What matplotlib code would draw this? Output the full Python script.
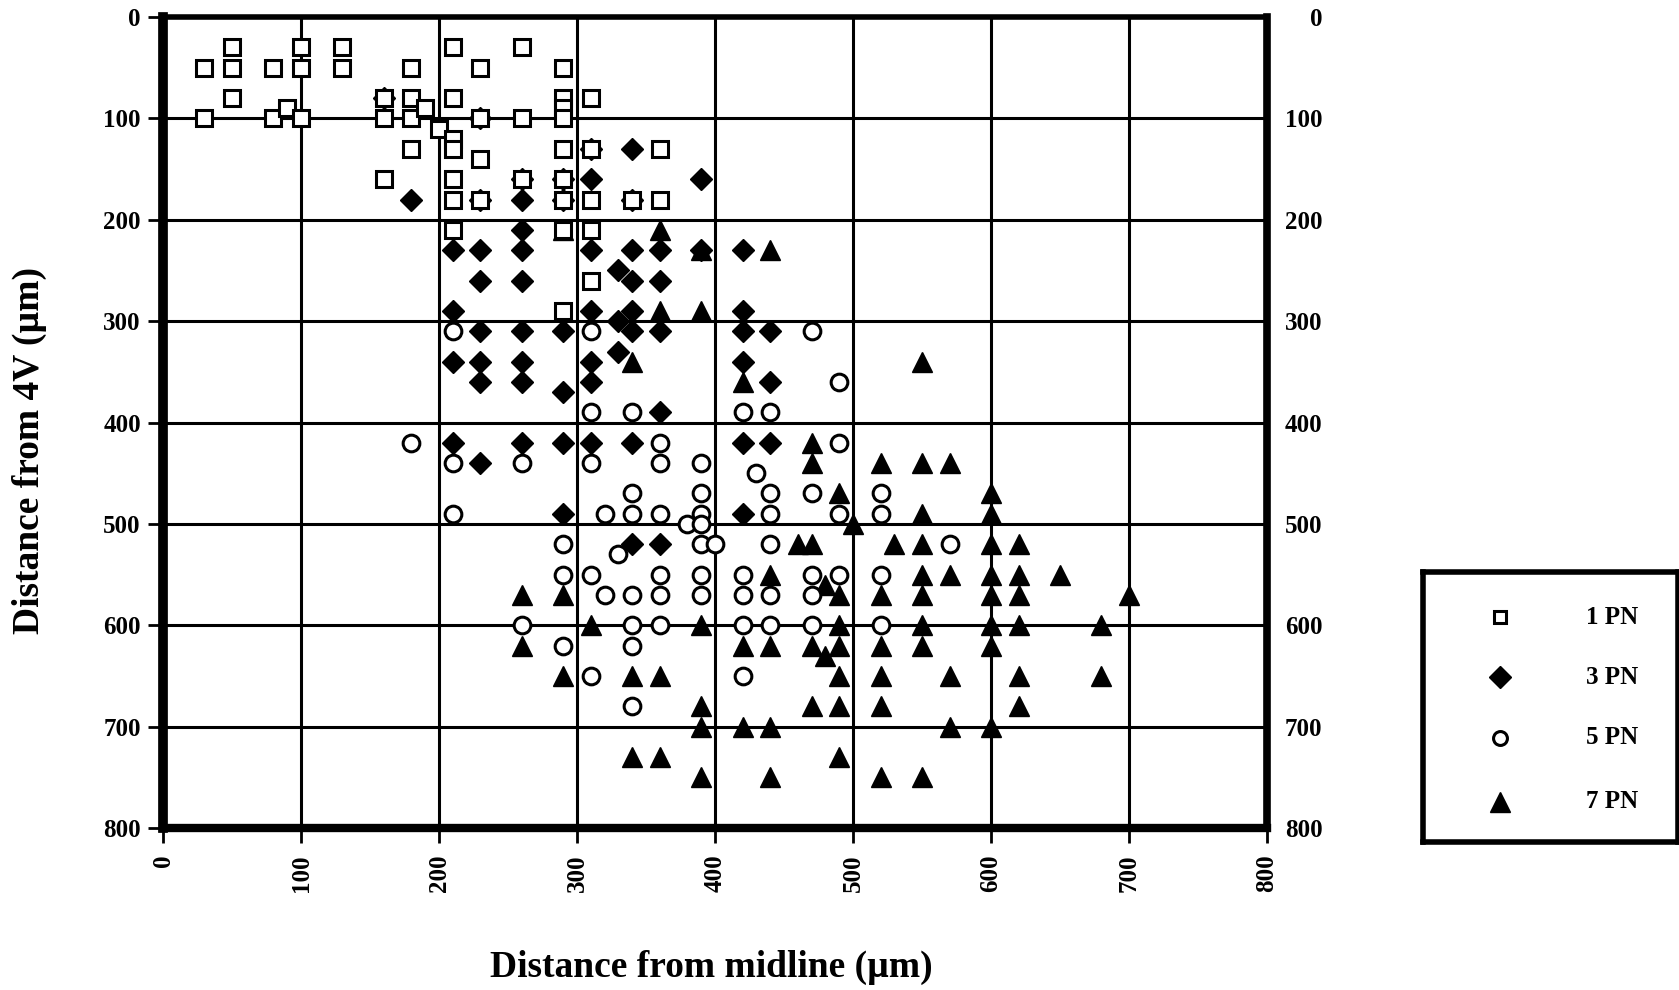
"""
Scatter: distance from midline vs distance from 4V, by age (PN)
"""
import matplotlib
matplotlib.use("Agg")
import matplotlib.pyplot as plt

plt.rcParams['font.family'] = ['Liberation Serif', 'DejaVu Serif']
plt.rcParams['font.weight'] = 'bold'

# 1 PN (open squares)
pn1_x = [30, 50, 50, 50, 30, 80, 80, 90, 100, 100, 100, 130, 130,
         160, 160, 160, 180, 180, 180, 180, 190, 200,
         210, 210, 210, 210, 210, 210, 210,
         230, 230, 230, 230,
         260, 260, 260,
         290, 290, 290, 290, 290, 290, 290, 290, 290,
         310, 310, 310, 310, 310,
         340, 360, 360]
pn1_y = [50, 30, 50, 80, 100, 50, 100, 90, 30, 50, 100, 30, 50,
         80, 100, 160, 50, 80, 100, 130, 90, 110,
         30, 80, 120, 130, 160, 180, 210,
         50, 100, 140, 180,
         30, 100, 160,
         50, 80, 90, 100, 130, 160, 180, 210, 290,
         80, 130, 180, 210, 260,
         180, 130, 180]

# 3 PN (filled diamonds)
pn3_x = [160, 230, 230, 260, 290, 310, 340,
         180, 260, 290, 340, 390, 310,
         210, 230, 260, 260,
         230, 260,
         310, 340, 360, 390, 420,
         330, 340, 360,
         210, 310, 330, 340, 420,
         230, 260, 290, 340, 360, 420, 440, 330,
         210, 230, 260, 310, 420,
         230, 260, 310, 440, 290,
         360,
         210, 260, 290, 310, 340, 420, 440,
         230,
         290, 420,
         340, 360]
pn3_y = [80, 100, 180, 160, 160, 130, 180,
         180, 180, 180, 130, 160, 160,
         230, 230, 210, 230,
         260, 260,
         230, 230, 230, 230, 230,
         250, 260, 260,
         290, 290, 300, 290, 290,
         310, 310, 310, 310, 310, 310, 310, 330,
         340, 340, 340, 340, 340,
         360, 360, 360, 360, 370,
         390,
         420, 420, 420, 420, 420, 420, 420,
         440,
         490, 490,
         520, 520]

# 5 PN (open circles)
pn5_x = [210, 310, 470, 490,
         310, 340, 420, 440,
         180, 210, 260, 310, 360, 360, 390, 490,
         430, 340, 390, 440, 470, 520,
         210, 320, 340, 360, 390, 380, 390, 440, 490, 520,
         290, 330, 390, 400, 440, 570,
         290, 310, 360, 390, 420, 470, 490, 520,
         320, 340, 360, 390, 420, 440, 470,
         260, 340, 360, 420, 440, 470, 520,
         290, 340,
         310, 420,
         340]
pn5_y = [310, 310, 310, 360,
         390, 390, 390, 390,
         420, 440, 440, 440, 420, 440, 440, 420,
         450, 470, 470, 470, 470, 470,
         490, 490, 490, 490, 490, 500, 500, 490, 490, 490,
         520, 530, 520, 520, 520, 520,
         550, 550, 550, 550, 550, 550, 550, 550,
         570, 570, 570, 570, 570, 570, 570,
         600, 600, 600, 600, 600, 600, 600,
         620, 620,
         650, 650,
         680]

# 7 PN (filled triangles)
pn7_x = [290, 360, 390, 440,
         360, 390, 340, 420, 550,
         470, 470, 520, 550, 570,
         490, 600,
         550, 600, 500,
         460, 470, 530, 550, 600, 620,
         440, 550, 570, 600, 620, 650, 480,
         260, 290, 490, 520, 550, 600, 620, 700,
         310, 390, 490, 550, 600, 620, 680,
         260, 420, 440, 470, 490, 520, 550, 600, 480,
         290, 340, 360, 490, 520, 570, 620, 680,
         390, 470, 490, 520, 620,
         390, 420, 440, 570, 600,
         340, 360, 490,
         390, 440, 520, 550]
pn7_y = [210, 210, 230, 230,
         290, 290, 340, 360, 340,
         420, 440, 440, 440, 440,
         470, 470,
         490, 490, 500,
         520, 520, 520, 520, 520, 520,
         550, 550, 550, 550, 550, 550, 560,
         570, 570, 570, 570, 570, 570, 570, 570,
         600, 600, 600, 600, 600, 600, 600,
         620, 620, 620, 620, 620, 620, 620, 620, 630,
         650, 650, 650, 650, 650, 650, 650, 650,
         680, 680, 680, 680, 680,
         700, 700, 700, 700, 700,
         730, 730, 730,
         750, 750, 750, 750]

legend_labels = ['1 PN', '3 PN', '5 PN', '7 PN']
ticks = list(range(0, 801, 100))


def main():
    fig = plt.figure(figsize=(16.79, 9.90), dpi=100)
    ax = fig.add_axes([0.0971, 0.1636, 0.6575, 0.8192])

    # 绘制顺序: 后画的在上层
    ax.plot(pn7_x, pn7_y, linestyle='none', marker='^', ms=14.5,
            mfc='black', mec='black', mew=1, zorder=3)
    ax.plot(pn5_x, pn5_y, linestyle='none', marker='o', ms=12,
            mfc='white', mec='black', mew=2.2, zorder=4)
    ax.plot(pn3_x, pn3_y, linestyle='none', marker='D', ms=11.5,
            mfc='black', mec='black', mew=1, zorder=5)
    ax.plot(pn1_x, pn1_y, linestyle='none', marker='s', ms=11,
            mfc='white', mec='black', mew=2.2, zorder=6)

    ax.set_xlim(0, 800)
    ax.set_ylim(800, 0)
    ax.set_xticks(ticks)
    ax.set_yticks(ticks)
    ax.grid(True, color='black', linewidth=2.2)
    ax.set_axisbelow(True)

    for side, lw in [('left', 7), ('bottom', 6), ('right', 5.5), ('top', 4)]:
        ax.spines[side].set_linewidth(lw)
        ax.spines[side].set_zorder(7)

    ax.tick_params(axis='both', direction='out', length=11, width=2,
                   labelsize=18, pad=5)
    ax.tick_params(axis='x', labelrotation=90, pad=8)
    for lab in ax.get_xticklabels() + ax.get_yticklabels():
        lab.set_fontweight('bold')

    ax.set_xlabel('Distance from midline (µm)', fontsize=27, fontweight='bold')
    ax.xaxis.set_label_coords(0.497, -0.150)
    ax.set_ylabel('Distance from 4V (µm)', fontsize=27, fontweight='bold')
    ax.yaxis.set_label_coords(-0.105, 0.466)

    # 右侧 y 轴
    ax2 = ax.twinx()
    ax2.set_ylim(800, 0)
    ax2.set_yticks(ticks)
    ax2.tick_params(axis='y', length=0, labelsize=18, pad=40)
    for lab in ax2.get_yticklabels():
        lab.set_fontweight('bold')
        lab.set_horizontalalignment('right')
    for s in ax2.spines.values():
        s.set_visible(False)

    # 图例框
    lax = fig.add_axes([1423 / 1679, 1 - 842 / 990, 255 / 1679, 270 / 990])
    lax.set_xlim(0, 1)
    lax.set_ylim(0, 1)
    lax.set_xticks([])
    lax.set_yticks([])
    for s in lax.spines.values():
        s.set_linewidth(4)
    styles = [dict(marker='s', ms=9, mfc='white', mec='black', mew=2.2),
              dict(marker='D', ms=11.5, mfc='black', mec='black', mew=1),
              dict(marker='o', ms=10, mfc='white', mec='black', mew=2.2),
              dict(marker='^', ms=15, mfc='black', mec='black', mew=1)]
    rows_y = [1 - (617 - 572) / 270, 1 - (677 - 572) / 270,
              1 - (738 - 572) / 270, 1 - (802 - 572) / 270]
    for label, st, yy in zip(legend_labels, styles, rows_y):
        lax.plot([0.30], [yy], linestyle='none', **st)
        lax.text(0.64, yy, label, fontsize=18, fontweight='bold',
                 va='center', ha='left')

    fig.savefig('out.png', dpi=100)


if __name__ == "__main__":
    main()
